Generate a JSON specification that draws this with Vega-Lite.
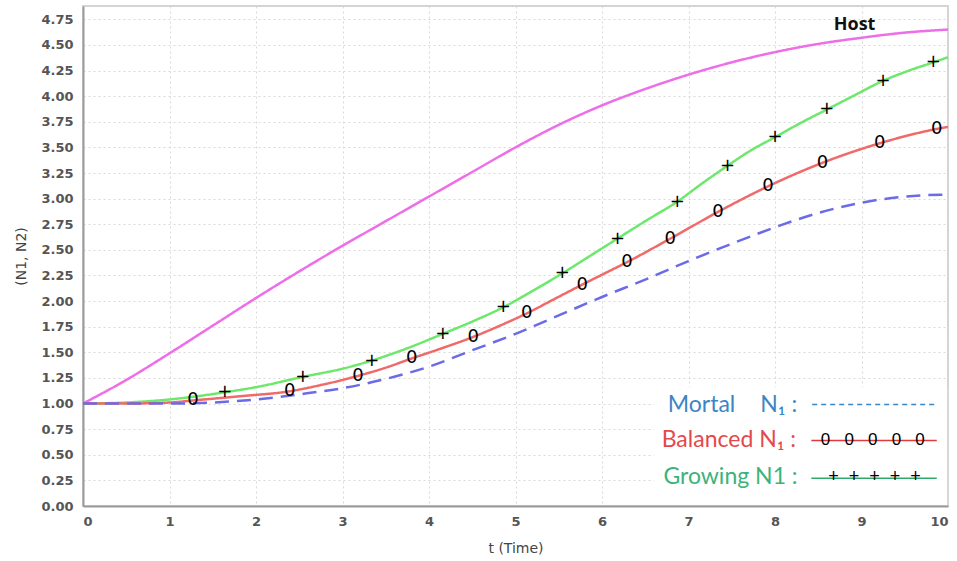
{
  "$schema": "https://vega.github.io/schema/vega-lite/v6.json",
  "width": 865,
  "height": 500,
  "autosize": {"type": "none"},
  "padding": {"left": 83, "top": 6, "right": 9, "bottom": 55},
  "background": "white",
  "config": {
    "view": {"stroke": "#d4d4d4", "strokeWidth": 2},
    "font": "DejaVu Sans",
    "axisX": {
      "ticks": false, "labelPadding": 9, "labelFontSize": 13, "labelFontWeight": "bold", "labelColor": "#555",
      "titleFontSize": 14, "titleFontWeight": "normal", "titleColor": "#444", "titlePadding": 13,
      "domainColor": "#9a9a9a", "domainWidth": 2, "labelOverlap": false,
      "grid": true, "gridColor": "#d9d9d9", "gridDash": [2, 3], "gridWidth": 1
    },
    "axisY": {
      "ticks": false, "labelPadding": 10, "labelFontSize": 13, "labelFontWeight": "bold", "labelColor": "#555",
      "titleFontSize": 14, "titleFontWeight": "normal", "titleColor": "#444", "titlePadding": 12,
      "domainColor": "#9a9a9a", "domainWidth": 2, "labelOverlap": false,
      "grid": true, "gridColor": "#d9d9d9", "gridDash": [2, 3], "gridWidth": 1
    }
  },
  "datasets": {
    "curves": [
      {"series": "Host", "t": 0, "v": 1.0}, {"series": "Host", "t": 0.5, "v": 1.23}, {"series": "Host", "t": 1, "v": 1.49},
      {"series": "Host", "t": 1.5, "v": 1.76}, {"series": "Host", "t": 2, "v": 2.03}, {"series": "Host", "t": 2.5, "v": 2.29},
      {"series": "Host", "t": 3, "v": 2.54}, {"series": "Host", "t": 3.5, "v": 2.78}, {"series": "Host", "t": 4, "v": 3.02},
      {"series": "Host", "t": 4.5, "v": 3.26}, {"series": "Host", "t": 5, "v": 3.5}, {"series": "Host", "t": 5.5, "v": 3.72},
      {"series": "Host", "t": 6, "v": 3.91}, {"series": "Host", "t": 6.5, "v": 4.07}, {"series": "Host", "t": 7, "v": 4.21},
      {"series": "Host", "t": 7.5, "v": 4.33}, {"series": "Host", "t": 8, "v": 4.43}, {"series": "Host", "t": 8.5, "v": 4.51},
      {"series": "Host", "t": 9, "v": 4.57}, {"series": "Host", "t": 9.5, "v": 4.62}, {"series": "Host", "t": 10, "v": 4.65},

      {"series": "Growing", "t": 0, "v": 1.0}, {"series": "Growing", "t": 0.5, "v": 1.01}, {"series": "Growing", "t": 1, "v": 1.04},
      {"series": "Growing", "t": 1.64, "v": 1.11}, {"series": "Growing", "t": 2, "v": 1.16}, {"series": "Growing", "t": 2.54, "v": 1.26},
      {"series": "Growing", "t": 3, "v": 1.34}, {"series": "Growing", "t": 3.34, "v": 1.42}, {"series": "Growing", "t": 3.75, "v": 1.54},
      {"series": "Growing", "t": 4.16, "v": 1.68}, {"series": "Growing", "t": 4.5, "v": 1.8}, {"series": "Growing", "t": 4.86, "v": 1.94},
      {"series": "Growing", "t": 5.2, "v": 2.1}, {"series": "Growing", "t": 5.54, "v": 2.27}, {"series": "Growing", "t": 5.86, "v": 2.44},
      {"series": "Growing", "t": 6.18, "v": 2.61}, {"series": "Growing", "t": 6.5, "v": 2.78}, {"series": "Growing", "t": 6.87, "v": 2.97},
      {"series": "Growing", "t": 7.16, "v": 3.15}, {"series": "Growing", "t": 7.45, "v": 3.32}, {"series": "Growing", "t": 7.7, "v": 3.46},
      {"series": "Growing", "t": 8.0, "v": 3.6}, {"series": "Growing", "t": 8.3, "v": 3.74}, {"series": "Growing", "t": 8.6, "v": 3.87},
      {"series": "Growing", "t": 8.9, "v": 4.0}, {"series": "Growing", "t": 9.25, "v": 4.15}, {"series": "Growing", "t": 9.55, "v": 4.25},
      {"series": "Growing", "t": 9.83, "v": 4.33}, {"series": "Growing", "t": 10, "v": 4.38},

      {"series": "Balanced", "t": 0, "v": 1.0}, {"series": "Balanced", "t": 0.5, "v": 1.0}, {"series": "Balanced", "t": 1, "v": 1.01},
      {"series": "Balanced", "t": 1.27, "v": 1.03}, {"series": "Balanced", "t": 1.8, "v": 1.07}, {"series": "Balanced", "t": 2.39, "v": 1.12},
      {"series": "Balanced", "t": 2.8, "v": 1.19}, {"series": "Balanced", "t": 3.18, "v": 1.27}, {"series": "Balanced", "t": 3.5, "v": 1.35},
      {"series": "Balanced", "t": 3.8, "v": 1.44}, {"series": "Balanced", "t": 4.15, "v": 1.54}, {"series": "Balanced", "t": 4.51, "v": 1.65},
      {"series": "Balanced", "t": 4.82, "v": 1.76}, {"series": "Balanced", "t": 5.13, "v": 1.88}, {"series": "Balanced", "t": 5.45, "v": 2.02},
      {"series": "Balanced", "t": 5.77, "v": 2.16}, {"series": "Balanced", "t": 6.03, "v": 2.27}, {"series": "Balanced", "t": 6.29, "v": 2.38},
      {"series": "Balanced", "t": 6.79, "v": 2.61}, {"series": "Balanced", "t": 7.34, "v": 2.87}, {"series": "Balanced", "t": 7.92, "v": 3.12},
      {"series": "Balanced", "t": 8.55, "v": 3.35}, {"series": "Balanced", "t": 9.21, "v": 3.54}, {"series": "Balanced", "t": 9.87, "v": 3.68},
      {"series": "Balanced", "t": 10, "v": 3.7},

      {"series": "Mortal", "t": 0, "v": 1.0}, {"series": "Mortal", "t": 0.5, "v": 1.0}, {"series": "Mortal", "t": 1, "v": 1.0},
      {"series": "Mortal", "t": 1.5, "v": 1.01}, {"series": "Mortal", "t": 2, "v": 1.04}, {"series": "Mortal", "t": 2.5, "v": 1.09},
      {"series": "Mortal", "t": 3, "v": 1.15}, {"series": "Mortal", "t": 3.5, "v": 1.24}, {"series": "Mortal", "t": 4, "v": 1.36},
      {"series": "Mortal", "t": 4.5, "v": 1.52}, {"series": "Mortal", "t": 5, "v": 1.68}, {"series": "Mortal", "t": 5.5, "v": 1.86},
      {"series": "Mortal", "t": 6, "v": 2.04}, {"series": "Mortal", "t": 6.5, "v": 2.21}, {"series": "Mortal", "t": 7, "v": 2.39},
      {"series": "Mortal", "t": 7.5, "v": 2.56}, {"series": "Mortal", "t": 8, "v": 2.72}, {"series": "Mortal", "t": 8.5, "v": 2.86},
      {"series": "Mortal", "t": 9, "v": 2.96}, {"series": "Mortal", "t": 9.5, "v": 3.02}, {"series": "Mortal", "t": 10, "v": 3.04}
    ],
    "markers": [
      {"sym": "+", "t": 1.64, "v": 1.11}, {"sym": "+", "t": 2.54, "v": 1.26}, {"sym": "+", "t": 3.34, "v": 1.42},
      {"sym": "+", "t": 4.16, "v": 1.68}, {"sym": "+", "t": 4.86, "v": 1.94}, {"sym": "+", "t": 5.54, "v": 2.27},
      {"sym": "+", "t": 6.18, "v": 2.61}, {"sym": "+", "t": 6.87, "v": 2.97}, {"sym": "+", "t": 7.45, "v": 3.32},
      {"sym": "+", "t": 8.0, "v": 3.6}, {"sym": "+", "t": 8.6, "v": 3.87}, {"sym": "+", "t": 9.25, "v": 4.15},
      {"sym": "+", "t": 9.83, "v": 4.33},
      {"sym": "0", "t": 1.27, "v": 1.03}, {"sym": "0", "t": 2.39, "v": 1.12}, {"sym": "0", "t": 3.18, "v": 1.27},
      {"sym": "0", "t": 3.8, "v": 1.44}, {"sym": "0", "t": 4.51, "v": 1.65}, {"sym": "0", "t": 5.13, "v": 1.88},
      {"sym": "0", "t": 5.77, "v": 2.16}, {"sym": "0", "t": 6.29, "v": 2.38}, {"sym": "0", "t": 6.79, "v": 2.61},
      {"sym": "0", "t": 7.34, "v": 2.87}, {"sym": "0", "t": 7.92, "v": 3.12}, {"sym": "0", "t": 8.55, "v": 3.35},
      {"sym": "0", "t": 9.21, "v": 3.54}, {"sym": "0", "t": 9.87, "v": 3.68}
    ]
  },
  "layer": [
    {
      "data": {"values": [{"box": "legend"}]},
      "mark": {"type": "rect", "fill": "white"},
      "encoding": {
        "x": {"datum": 6.6, "type": "quantitative", "scale": {"domain": [0, 10], "nice": false, "zero": false}, "axis": {"title": "t (Time)", "values": [0,1,2,3,4,5,6,7,8,9,10], "format": "d"}},
        "x2": {"datum": 9.99},
        "y": {"datum": 0.01, "type": "quantitative", "scale": {"domain": [0, 4.88], "nice": false}, "axis": {"title": "(N1, N2)", "values": [0,0.25,0.5,0.75,1,1.25,1.5,1.75,2,2.25,2.5,2.75,3,3.25,3.5,3.75,4,4.25,4.5,4.75], "format": ".2f"}},
        "y2": {"datum": 1.16}
      }
    },
    {
      "data": {"name": "curves"},
      "mark": {"type": "line", "interpolate": "monotone", "strokeWidth": 2.5},
      "encoding": {
        "x": {"field": "t", "type": "quantitative", "axis": {"title": "t (Time)", "values": [0,1,2,3,4,5,6,7,8,9,10], "format": "d"}},
        "y": {"field": "v", "type": "quantitative", "axis": {"title": "(N1, N2)", "values": [0,0.25,0.5,0.75,1,1.25,1.5,1.75,2,2.25,2.5,2.75,3,3.25,3.5,3.75,4,4.25,4.5,4.75], "format": ".2f"}},
        "color": {
          "field": "series", "type": "nominal", "legend": null,
          "scale": {"domain": ["Host", "Growing", "Balanced", "Mortal"], "range": ["#ee6ee8", "#6de86d", "#f06a6a", "#6b6be8"]}
        },
        "strokeDash": {
          "field": "series", "type": "nominal", "legend": null,
          "scale": {"domain": ["Host", "Growing", "Balanced", "Mortal"], "range": [[1, 0], [1, 0], [1, 0], [14, 8]]}
        }
      }
    },
    {
      "data": {"name": "markers"},
      "mark": {"type": "text", "fontSize": 18, "font": "DejaVu Sans", "color": "black", "align": "center", "baseline": "middle"},
      "encoding": {
        "x": {"field": "t", "type": "quantitative", "axis": {"title": "t (Time)", "values": [0,1,2,3,4,5,6,7,8,9,10], "format": "d"}},
        "y": {"field": "v", "type": "quantitative", "axis": {"title": "(N1, N2)", "values": [0,0.25,0.5,0.75,1,1.25,1.5,1.75,2,2.25,2.5,2.75,3,3.25,3.5,3.75,4,4.25,4.5,4.75], "format": ".2f"}},
        "text": {"field": "sym"}
      }
    },
    {
      "data": {"values": [{"label": "Host"}]},
      "mark": {"type": "text", "font": "Open Sans", "fontSize": 18, "fontWeight": "bold", "color": "#111", "align": "center", "baseline": "middle"},
      "encoding": {
        "x": {"datum": 8.92, "type": "quantitative", "axis": {"title": "t (Time)", "values": [0,1,2,3,4,5,6,7,8,9,10], "format": "d"}},
        "y": {"datum": 4.69, "type": "quantitative", "axis": {"title": "(N1, N2)", "values": [0,0.25,0.5,0.75,1,1.25,1.5,1.75,2,2.25,2.5,2.75,3,3.25,3.5,3.75,4,4.25,4.5,4.75], "format": ".2f"}},
        "text": {"field": "label"}
      }
    },
    {
      "data": {"values": [{"label": "Mortal"}]},
      "mark": {"type": "text", "font": "Lato", "fontSize": 23, "color": "#3a86c4", "align": "left", "baseline": "middle"},
      "encoding": {
        "x": {"datum": 6.76, "type": "quantitative", "axis": {"title": "t (Time)", "values": [0,1,2,3,4,5,6,7,8,9,10], "format": "d"}},
        "y": {"datum": 0.985, "type": "quantitative", "axis": {"title": "(N1, N2)", "values": [0,0.25,0.5,0.75,1,1.25,1.5,1.75,2,2.25,2.5,2.75,3,3.25,3.5,3.75,4,4.25,4.5,4.75], "format": ".2f"}},
        "text": {"field": "label"}
      }
    },
    {
      "data": {"values": [{"label": "N₁ :"}]},
      "mark": {"type": "text", "font": "Lato", "fontSize": 23, "color": "#3a86c4", "align": "left", "baseline": "middle"},
      "encoding": {
        "x": {"datum": 7.83, "type": "quantitative", "axis": {"title": "t (Time)", "values": [0,1,2,3,4,5,6,7,8,9,10], "format": "d"}},
        "y": {"datum": 0.985, "type": "quantitative", "axis": {"title": "(N1, N2)", "values": [0,0.25,0.5,0.75,1,1.25,1.5,1.75,2,2.25,2.5,2.75,3,3.25,3.5,3.75,4,4.25,4.5,4.75], "format": ".2f"}},
        "text": {"field": "label"}
      }
    },
    {
      "data": {"values": [{"label": "Balanced N₁ :"}]},
      "mark": {"type": "text", "font": "Lato", "fontSize": 23, "color": "#e5484a", "align": "left", "baseline": "middle"},
      "encoding": {
        "x": {"datum": 6.69, "type": "quantitative", "axis": {"title": "t (Time)", "values": [0,1,2,3,4,5,6,7,8,9,10], "format": "d"}},
        "y": {"datum": 0.64, "type": "quantitative", "axis": {"title": "(N1, N2)", "values": [0,0.25,0.5,0.75,1,1.25,1.5,1.75,2,2.25,2.5,2.75,3,3.25,3.5,3.75,4,4.25,4.5,4.75], "format": ".2f"}},
        "text": {"field": "label"}
      }
    },
    {
      "data": {"values": [{"label": "Growing N1 :"}]},
      "mark": {"type": "text", "font": "Lato", "fontSize": 23, "color": "#3cb37a", "align": "left", "baseline": "middle"},
      "encoding": {
        "x": {"datum": 6.71, "type": "quantitative", "axis": {"title": "t (Time)", "values": [0,1,2,3,4,5,6,7,8,9,10], "format": "d"}},
        "y": {"datum": 0.28, "type": "quantitative", "axis": {"title": "(N1, N2)", "values": [0,0.25,0.5,0.75,1,1.25,1.5,1.75,2,2.25,2.5,2.75,3,3.25,3.5,3.75,4,4.25,4.5,4.75], "format": ".2f"}},
        "text": {"field": "label"}
      }
    },
    {
      "data": {"values": [{"item": "Mortal"}]},
      "mark": {"type": "rule", "color": "#3a86c4", "strokeWidth": 1.5, "strokeDash": [5, 4]},
      "encoding": {
        "x": {"datum": 8.43, "type": "quantitative", "axis": {"title": "t (Time)", "values": [0,1,2,3,4,5,6,7,8,9,10], "format": "d"}},
        "x2": {"datum": 9.85},
        "y": {"datum": 0.99, "type": "quantitative", "axis": {"title": "(N1, N2)", "values": [0,0.25,0.5,0.75,1,1.25,1.5,1.75,2,2.25,2.5,2.75,3,3.25,3.5,3.75,4,4.25,4.5,4.75], "format": ".2f"}}
      }
    },
    {
      "data": {"values": [{"item": "Balanced"}]},
      "mark": {"type": "rule", "color": "#e03a3a", "strokeWidth": 1.5},
      "encoding": {
        "x": {"datum": 8.42, "type": "quantitative", "axis": {"title": "t (Time)", "values": [0,1,2,3,4,5,6,7,8,9,10], "format": "d"}},
        "x2": {"datum": 9.87},
        "y": {"datum": 0.64, "type": "quantitative", "axis": {"title": "(N1, N2)", "values": [0,0.25,0.5,0.75,1,1.25,1.5,1.75,2,2.25,2.5,2.75,3,3.25,3.5,3.75,4,4.25,4.5,4.75], "format": ".2f"}}
      }
    },
    {
      "data": {"values": [{"item": "Growing"}]},
      "mark": {"type": "rule", "color": "#2faa6a", "strokeWidth": 1.5},
      "encoding": {
        "x": {"datum": 8.42, "type": "quantitative", "axis": {"title": "t (Time)", "values": [0,1,2,3,4,5,6,7,8,9,10], "format": "d"}},
        "x2": {"datum": 9.87},
        "y": {"datum": 0.27, "type": "quantitative", "axis": {"title": "(N1, N2)", "values": [0,0.25,0.5,0.75,1,1.25,1.5,1.75,2,2.25,2.5,2.75,3,3.25,3.5,3.75,4,4.25,4.5,4.75], "format": ".2f"}}
      }
    },
    {
      "data": {"values": [{"label": "0\u00a0\u00a0\u00a00\u00a0\u00a0\u00a00\u00a0\u00a0\u00a00\u00a0\u00a0\u00a00"}]},
      "mark": {"type": "text", "font": "Liberation Sans", "fontSize": 17, "color": "black", "align": "center", "baseline": "middle"},
      "encoding": {
        "x": {"datum": 9.13, "type": "quantitative", "axis": {"title": "t (Time)", "values": [0,1,2,3,4,5,6,7,8,9,10], "format": "d"}},
        "y": {"datum": 0.64, "type": "quantitative", "axis": {"title": "(N1, N2)", "values": [0,0.25,0.5,0.75,1,1.25,1.5,1.75,2,2.25,2.5,2.75,3,3.25,3.5,3.75,4,4.25,4.5,4.75], "format": ".2f"}},
        "text": {"field": "label"}
      }
    },
    {
      "data": {"values": [{"label": "+\u00a0\u00a0+\u00a0\u00a0+\u00a0\u00a0+\u00a0\u00a0+"}]},
      "mark": {"type": "text", "font": "Liberation Sans", "fontSize": 18, "color": "black", "align": "center", "baseline": "middle"},
      "encoding": {
        "x": {"datum": 9.15, "type": "quantitative", "axis": {"title": "t (Time)", "values": [0,1,2,3,4,5,6,7,8,9,10], "format": "d"}},
        "y": {"datum": 0.28, "type": "quantitative", "axis": {"title": "(N1, N2)", "values": [0,0.25,0.5,0.75,1,1.25,1.5,1.75,2,2.25,2.5,2.75,3,3.25,3.5,3.75,4,4.25,4.5,4.75], "format": ".2f"}},
        "text": {"field": "label"}
      }
    }
  ]
}
